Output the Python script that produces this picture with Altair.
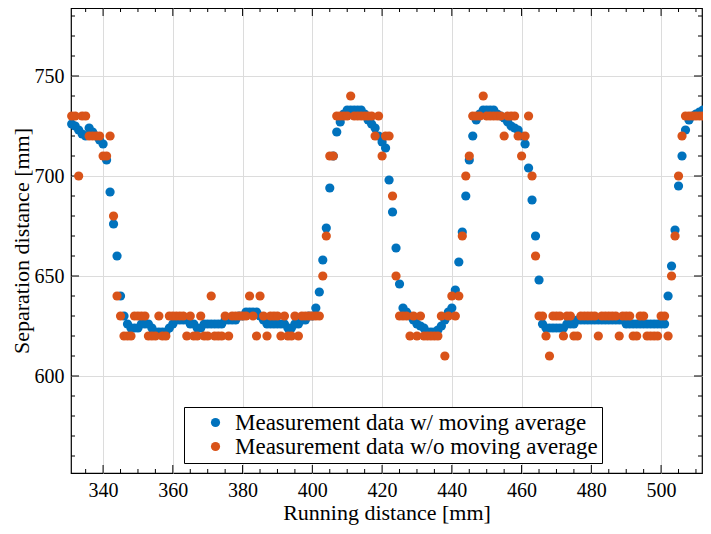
import altair as alt
import pandas as pd

# Running distance [mm] of each sample
running = [
    331, 332, 333, 334, 335, 336, 337, 338, 339, 340,
    341, 342, 343, 344, 345, 346, 347, 348, 349, 350,
    351, 352, 353, 354, 355, 356, 357, 358, 359, 360,
    361, 362, 363, 364, 365, 366, 367, 368, 369, 370,
    371, 372, 373, 374, 375, 376, 377, 378, 379, 380,
    381, 382, 383, 384, 385, 386, 387, 388, 389, 390,
    391, 392, 393, 394, 395, 396, 397, 398, 399, 400,
    401, 402, 403, 404, 405, 406, 407, 408, 409, 410,
    411, 412, 413, 414, 415, 416, 417, 418, 419, 420,
    421, 422, 423, 424, 425, 426, 427, 428, 429, 430,
    431, 432, 433, 434, 435, 436, 437, 438, 439, 440,
    441, 442, 443, 444, 445, 446, 447, 448, 449, 450,
    451, 452, 453, 454, 455, 456, 457, 458, 459, 460,
    461, 462, 463, 464, 465, 466, 467, 468, 469, 470,
    471, 472, 473, 474, 475, 476, 477, 478, 479, 480,
    481, 482, 483, 484, 485, 486, 487, 488, 489, 490,
    491, 492, 493, 494, 495, 496, 497, 498, 499, 500,
    501, 502, 503, 504, 505, 506, 507, 508, 509, 510,
    511, 512, 513, 514,
]

# Separation distance, with moving average
with_avg = [
    726, 725, 723, 721, 720, 724, 722, 720, 718, 716,
    708, 692, 676, 660, 640, 630, 626, 624, 624, 624,
    626, 626, 626, 624, 622, 622, 622, 622, 624, 626,
    628, 628, 628, 628, 626, 626, 624, 624, 626, 626,
    626, 626, 626, 626, 628, 628, 628, 628, 630, 630,
    632, 632, 632, 632, 630, 628, 626, 626, 626, 626,
    626, 626, 624, 624, 626, 626, 628, 628, 630, 630,
    634, 642, 658, 674, 694, 710, 722, 727, 731, 733,
    733, 733, 733, 733, 731, 728, 726, 724, 720, 717,
    714, 698, 682, 664, 646, 634, 632, 630, 628, 626,
    625, 624, 622, 622, 622, 623, 625, 628, 632, 634,
    643, 657, 672, 690, 708, 720, 728, 731, 733, 733,
    733, 733, 731, 730, 729, 727, 725, 724, 723, 720,
    716, 704, 688, 670, 648, 626, 624, 624, 624, 624,
    624, 624, 626, 626, 626, 628, 628, 628, 628, 628,
    628, 628, 628, 628, 628, 628, 628, 628, 628, 626,
    626, 626, 626, 626, 626, 626, 626, 626, 626, 626,
    626, 640, 655, 673, 695, 710, 723, 728, 730, 731,
    732, 733, 733, 733,
]

# Separation distance, raw (without moving average)
without_avg = [
    730, 730, 700, 730, 730, 720, 720, 720, 720, 710,
    710, 720, 680, 640, 630, 620, 620, 620, 630, 630,
    630, 630, 620, 620, 620, 630, 620, 620, 630, 630,
    630, 630, 630, 620, 630, 620, 620, 630, 620, 620,
    640, 620, 620, 620, 630, 620, 630, 630, 630, 630,
    630, 640, 630, 620, 640, 630, 620, 630, 630, 630,
    620, 630, 620, 620, 630, 620, 630, 630, 630, 630,
    630, 630, 650, 670, 710, 710, 730, 730, 730, 730,
    740, 730, 730, 730, 730, 730, 730, 720, 730, 710,
    720, 720, 690, 650, 630, 630, 630, 620, 630, 620,
    630, 620, 620, 620, 620, 620, 630, 610, 630, 640,
    630, 640, 670, 700, 710, 730, 730, 730, 740, 730,
    730, 730, 730, 730, 720, 730, 730, 730, 720, 710,
    720, 730, 700, 660, 630, 630, 620, 610, 630, 630,
    630, 620, 630, 630, 620, 620, 630, 630, 630, 630,
    630, 620, 630, 630, 630, 630, 630, 620, 630, 630,
    630, 620, 620, 630, 630, 620, 620, 620, 620, 630,
    630, 620, 650, 670, 700, 720, 730, 730, 730, 730,
    730, 730, 730, 740,
]

series_names = [
    "Measurement data w/ moving average",
    "Measurement data w/o moving average",
]
series_colors = ["#0072BD", "#D95319"]

x_major = [340, 360, 380, 400, 420, 440, 460, 480, 500]
x_minor = [335, 345, 350, 355, 365, 370, 375, 385, 390, 395, 405, 410, 415,
           425, 430, 435, 445, 450, 455, 465, 470, 475, 485, 490, 495, 505, 510]
y_major = [600, 650, 700, 750]
y_minor = [560, 570, 580, 590, 610, 620, 630, 640, 660, 670, 680, 690,
           710, 720, 730, 740, 760, 770, 780]

x_domain = [330.8, 511.73]
y_domain = [551.5, 784]

W, H = 631, 465
FONT = "Liberation Serif"

df = pd.DataFrame({
    "x": running + running,
    "y": with_avg + without_avg,
    "series": [series_names[0]] * len(running) + [series_names[1]] * len(running),
})

xscale = alt.Scale(domain=x_domain, nice=False, zero=False)
yscale = alt.Scale(domain=y_domain, nice=False, zero=False)

xaxis = alt.Axis(values=x_major, title="Running distance [mm]", ticks=False,
                 domain=False, grid=True, labelPadding=7, titlePadding=2)
yaxis = alt.Axis(values=y_major, title="Separation distance [mm]", ticks=False,
                 domain=False, grid=True, labelPadding=7, titlePadding=1)

points = alt.Chart(df).mark_circle(size=85, opacity=1, clip=False).encode(
    x=alt.X("x:Q", scale=xscale, axis=xaxis),
    y=alt.Y("y:Q", scale=yscale, axis=yaxis),
    color=alt.Color("series:N", title=None,
                    scale=alt.Scale(domain=series_names, range=series_colors),
                    legend=alt.Legend(orient="none", legendX=113, legendY=399,
                                      symbolType="circle", symbolSize=85,
                                      symbolStrokeWidth=0, symbolOffset=16,
                                      labelFont=FONT, labelFontSize=23,
                                      labelColor="black", labelOffset=8,
                                      padding=4, rowPadding=0,
                                      strokeColor="black", fillColor="white",
                                      labelLimit=600)),
)


def xticks(values, length):
    d = pd.DataFrame({"v": values})
    base = alt.Chart(d).mark_rule(color="black", strokeWidth=1)
    bottom = base.encode(x=alt.X("v:Q", scale=xscale, axis=xaxis),
                         y=alt.value(H), y2=alt.value(H - length))
    top = base.encode(x=alt.X("v:Q", scale=xscale, axis=xaxis),
                      y=alt.value(0), y2=alt.value(length))
    return [bottom, top]


def yticks(values, length):
    d = pd.DataFrame({"v": values})
    base = alt.Chart(d).mark_rule(color="black", strokeWidth=1)
    left = base.encode(y=alt.Y("v:Q", scale=yscale, axis=yaxis),
                       x=alt.value(0), x2=alt.value(length))
    right = base.encode(y=alt.Y("v:Q", scale=yscale, axis=yaxis),
                        x=alt.value(W), x2=alt.value(W - length))
    return [left, right]


layers = (xticks(x_major, 8) + xticks(x_minor, 4)
          + yticks(y_major, 8) + yticks(y_minor, 4) + [points])

chart = alt.layer(*layers).properties(
    width=W, height=H,
    autosize=alt.AutoSizeParams(type="none"),
    padding={"left": 63, "top": 0, "right": 1, "bottom": 60},
).configure_view(
    stroke="black", strokeWidth=1.2
).configure_axis(
    labelFont=FONT, labelFontSize=20, labelColor="black",
    titleFont=FONT, titleFontSize=22, titleFontWeight="normal", titleColor="black",
    gridColor="#dcdcdc", gridWidth=1,
)

chart.save("out.html", embed_options={"renderer": "svg", "actions": False})
